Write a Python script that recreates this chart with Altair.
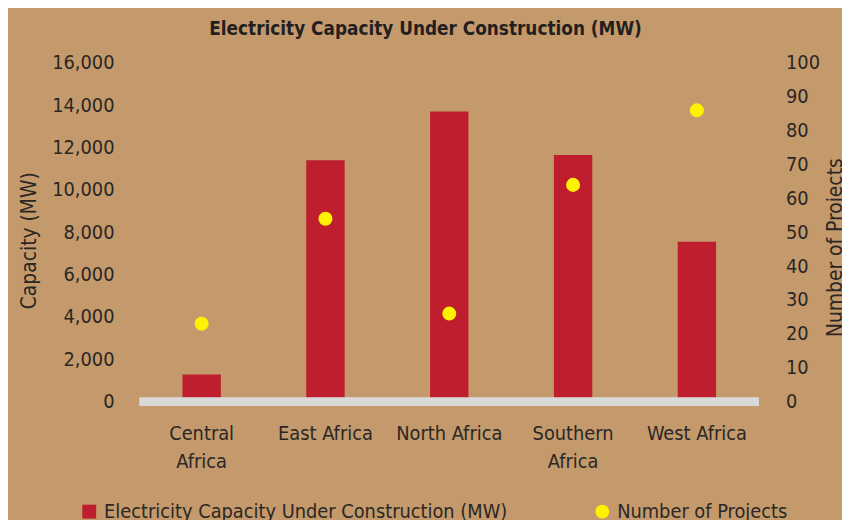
import altair as alt
import pandas as pd

regions = ["Central\nAfrica", "East Africa", "North Africa", "Southern\nAfrica", "West Africa"]
capacity_mw = [1280, 11400, 13700, 11650, 7550]
num_projects = [23, 54, 26, 64, 86]

series_bar = "Electricity Capacity Under Construction (MW)"
series_pt = "Number of Projects"

df = pd.DataFrame({
    "region": regions,
    "capacity": capacity_mw,
    "projects": num_projects,
    "s_bar": [series_bar] * len(regions),
    "s_pt": [series_pt] * len(regions),
})

FONT = "Noto Sans Condensed Light, Liberation Sans Narrow, DejaVu Sans Condensed, sans-serif"
TFONT = "Noto Sans Condensed, Liberation Sans Narrow, DejaVu Sans Condensed, sans-serif"
TXT = "#2b2724"
BG = "#C49A6C"
FS = 20

color_scale = alt.Scale(domain=[series_bar, series_pt], range=["#BE1E2D", "#FFF200"])
shape_scale = alt.Scale(domain=[series_bar, series_pt], range=["square", "circle"])

x_enc = alt.X(
    "region:N",
    sort=regions,
    scale=alt.Scale(paddingInner=0.69, paddingOuter=0.345),
    axis=alt.Axis(
        title=None, labelAngle=0, domain=False, ticks=False, labelPadding=22,
        labelExpr="split(datum.label, '\\n')", labelLineHeight=28,
        labelFontSize=FS, labelFont=FONT, labelColor=TXT,
    ),
)

legend = alt.Legend(
    title=None, orient="none", legendX=-61, legendY=443, columns=2,
    columnPadding=85, symbolSize=196, labelFontSize=FS, labelFont=FONT,
    labelColor=TXT, labelLimit=600, symbolStrokeWidth=0, padding=0,
    labelOffset=5,
)

y_left_axis = alt.Axis(
    title="Capacity (MW)", values=list(range(0, 16001, 2000)),
    labelExpr="format(datum.value, ',')",
    domain=False, ticks=False, grid=False, labelPadding=26,
    labelFontSize=FS, labelFont=FONT, labelColor=TXT,
    titleFontSize=21, titleFont=FONT, titleColor=TXT, titleFontWeight="normal",
    titleAngle=270, titleX=-111, titleY=179, titleBaseline="middle",
    titleAlign="center",
)

bars = alt.Chart(df).mark_bar().encode(
    x=x_enc,
    y=alt.Y("capacity:Q", scale=alt.Scale(domain=[0, 16000]), axis=y_left_axis),
    color=alt.Color("s_bar:N", scale=color_scale, legend=legend),
    shape=alt.Shape("s_bar:N", scale=shape_scale, legend=legend),
)

zero_line = alt.Chart(df).mark_rule(color="#D9D9D9", strokeWidth=8, strokeCap="butt").encode(
    y=alt.Y("zero:Q", scale=alt.Scale(domain=[0, 16000]), axis=y_left_axis),
).transform_calculate(zero="0")

points = alt.Chart(df).mark_point(filled=True, opacity=1, size=200).encode(
    x=alt.X("region:N", sort=regions),
    y=alt.Y(
        "projects:Q",
        scale=alt.Scale(domain=[0, 100]),
        axis=alt.Axis(
            title="Number of Projects", orient="right", values=list(range(0, 101, 10)),
            domain=False, ticks=False, grid=False, labelPadding=27,
            labelFontSize=FS, labelFont=FONT, labelColor=TXT,
            titleFontSize=21, titleFont=FONT, titleColor=TXT, titleFontWeight="normal",
            titleAngle=270, titleX=77, titleY=186, titleBaseline="middle",
            titleAlign="center",
        ),
    ),
    color=alt.Color("s_pt:N", scale=color_scale, legend=legend),
    shape=alt.Shape("s_pt:N", scale=shape_scale, legend=legend),
)

left = alt.layer(bars, zero_line)

chart = alt.layer(left, points).resolve_scale(
    y="independent"
).properties(
    width=625,
    height=342,
    background=BG,
    autosize=alt.AutoSizeParams(type="none"),
    padding={"left": 133, "top": 53, "right": 84, "bottom": 117},
    title=alt.TitleParams(
        "Electricity Capacity Under Construction (MW)",
        font=TFONT, fontSize=19, fontWeight="bold", color="#231f20",
        anchor="middle", dx=-24, offset=14,
    ),
).configure_view(stroke=None).configure_axis(grid=False)

chart.save("out.html", embed_options={"renderer": "svg", "actions": False})
